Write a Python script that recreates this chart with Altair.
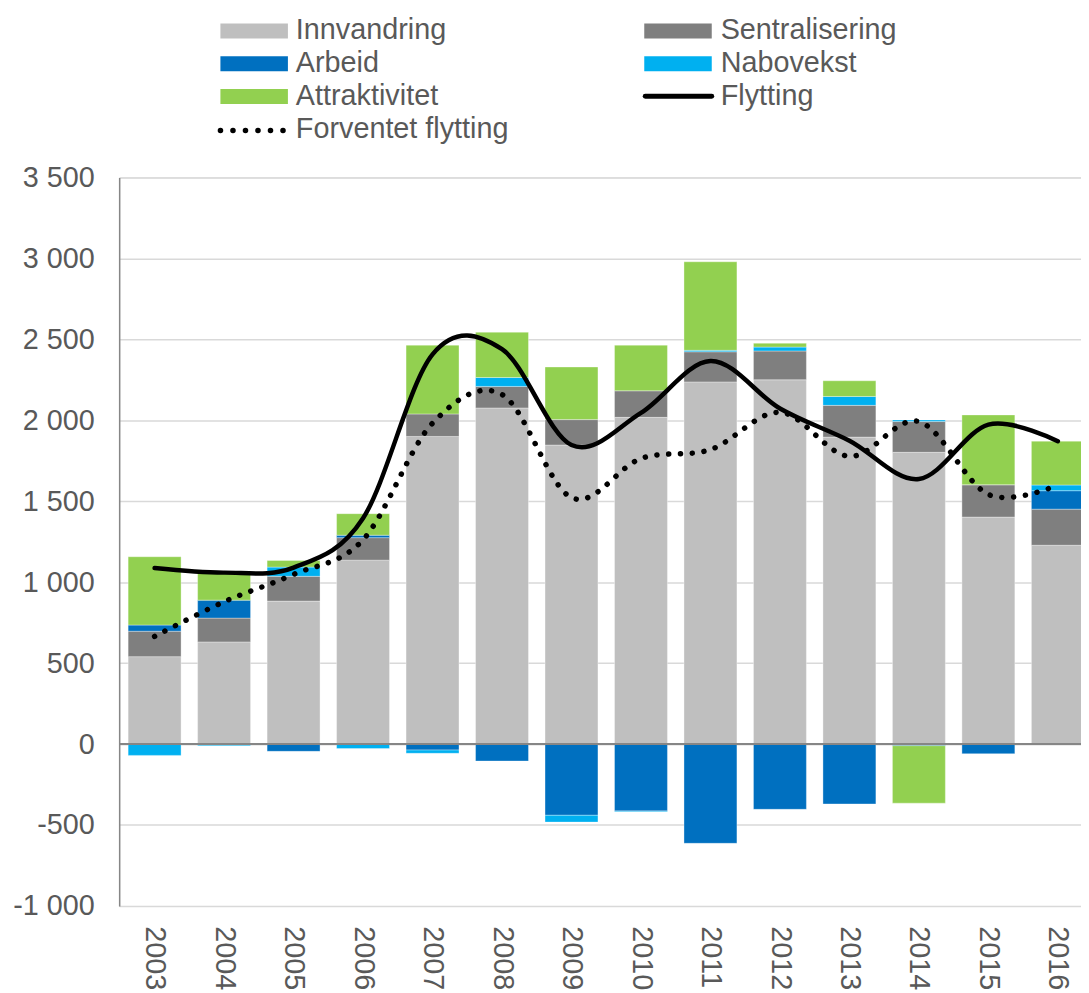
import altair as alt
import pandas as pd

# ---------------- data ----------------
YEARS = list(range(2003, 2017))
SERIES = ["Innvandring", "Sentralisering", "Arbeid", "Nabovekst", "Attraktivitet"]
COLORS = ["#BFBFBF", "#7F7F7F", "#0070C0", "#00B0F0", "#92D050"]

INNVANDRING = [540, 631, 883, 1136, 1900, 2076, 1847, 2018, 2237, 2250, 1896, 1802, 1402, 1228]
SENTRALISERING = [157, 147, 153, 139, 139, 133, 157, 164, 186, 178, 196, 190, 200, 223]
ARBEID = [38, 111, -45, 15, -37, -105, -440, -413, -613, -403, -370, -10, -60, 114]
NABOVEKST = [-70, -10, 57, -28, -20, 55, -42, -5, 9, 24, 55, 10, 0, 35]
ATTRAKTIVITET = [422, 180, 41, 133, 425, 280, 325, 282, 547, 24, 97, -355, 431, 271]

FLYTTING = [1087, 1059, 1090, 1395, 2407, 2439, 1847, 2046, 2366, 2073, 1874, 1637, 1973, 1871]
FORVENTET = [665, 879, 1048, 1262, 1982, 2159, 1522, 1764, 1819, 2049, 1777, 1992, 1542, 1600]

Y_TICKS = [-1000, -500, 0, 500, 1000, 1500, 2000, 2500, 3000, 3500]

# ---------------- tables ----------------
series_values = [INNVANDRING, SENTRALISERING, ARBEID, NABOVEKST, ATTRAKTIVITET]
rows = []
for order, (name, vals) in enumerate(zip(SERIES, series_values)):
    for y, v in zip(YEARS, vals):
        rows.append({"year": y, "series": name, "order": order, "value": v})
bar_df = pd.DataFrame(rows)
line_df = pd.DataFrame({"year": YEARS, "flytting": FLYTTING, "forventet": FORVENTET})

FONT = "Liberation Sans"
TXT = "#595959"
FS = 29
W, H = 969, 734

xscale = alt.Scale(domain=[2002.49, 2016.333], nice=False, zero=False)
yscale = alt.Scale(domain=[-1000, 3500], nice=False, zero=False)

xaxis = alt.Axis(values=YEARS, format="d", labelAngle=90, ticks=False, domain=False,
                 grid=False, labelFontSize=FS, labelColor=TXT, labelFont=FONT,
                 labelPadding=20, labelOverlap=False, labelFlush=False, title=None)
yaxis = alt.Axis(values=Y_TICKS,
                 labelExpr="(datum.value < 0 ? '-' : '') + replace(format(abs(datum.value), ','), ',', ' ')",
                 ticks=False, domainColor="#868686", domainWidth=1.5,
                 gridColor="#D9D9D9", gridWidth=1.5, labelFontSize=FS,
                 labelColor=TXT, labelFont=FONT, labelPadding=25, title=None)

bars = (
    alt.Chart(bar_df)
    .transform_stack(stack="value", as_=["v0", "v1"], groupby=["year"],
                     sort=[alt.SortField("order", order="ascending")], offset="zero")
    .transform_calculate(x0="datum.year - 0.381", x1="datum.year + 0.381")
    .mark_rect(clip=True, stroke="white", strokeOpacity=0.35, strokeWidth=1)
    .encode(
        x=alt.X("x0:Q", scale=xscale, axis=xaxis),
        x2="x1:Q",
        y=alt.Y("v0:Q", scale=yscale, axis=yaxis),
        y2="v1:Q",
        color=alt.Color("series:N", scale=alt.Scale(domain=SERIES, range=COLORS), legend=None),
    )
)

zero_rule = (
    alt.Chart(pd.DataFrame({"v": [0]}))
    .mark_rule(color="#868686", strokeWidth=2)
    .encode(y=alt.Y("v:Q", scale=yscale))
)

flytting = (
    alt.Chart(line_df)
    .mark_line(interpolate="cardinal", color="black", strokeWidth=4.5, strokeCap="round", clip=True)
    .encode(x=alt.X("year:Q", scale=xscale), y=alt.Y("flytting:Q", scale=yscale))
)
forventet = (
    alt.Chart(line_df)
    .mark_line(interpolate="cardinal", color="black", strokeWidth=5.5, strokeCap="round",
               strokeDash=[0.1, 11.8], clip=True)
    .encode(x=alt.X("year:Q", scale=xscale), y=alt.Y("forventet:Q", scale=yscale))
)

# ---------------- manual legend (pixel layout relative to plot origin) ----------------
LEG_SWATCH = {
    "Innvandring": (102, 170, -155, -140),
    "Sentralisering": (529, 597, -155, -140),
    "Arbeid": (102, 170, -122, -107),
    "Nabovekst": (529, 597, -122, -107),
    "Attraktivitet": (102, 170, -89, -74),
}
LEG_TEXT = {
    "Innvandring": (178, -139),
    "Sentralisering": (606, -139),
    "Arbeid": (178, -106),
    "Nabovekst": (606, -106),
    "Attraktivitet": (178, -73),
    "Flytting": (606, -73),
    "Forventet flytting": (178, -40),
}

legend_layers = []
for name, col in zip(SERIES, COLORS):
    x1, x2, y1, y2 = LEG_SWATCH[name]
    legend_layers.append(
        alt.Chart(pd.DataFrame({"label": [name]}))
        .mark_rect(color=col)
        .encode(x=alt.value(x1), x2=alt.value(x2), y=alt.value(y1), y2=alt.value(y2))
    )
legend_layers.append(
    alt.Chart(pd.DataFrame({"label": ["Flytting"]}))
    .mark_rule(color="black", strokeWidth=5, strokeCap="round")
    .encode(x=alt.value(530), x2=alt.value(597), y=alt.value(-81.7))
)
legend_layers.append(
    alt.Chart(pd.DataFrame({"label": ["Forventet flytting"]}))
    .mark_rule(color="black", strokeWidth=5.5, strokeCap="round", strokeDash=[0.1, 12.5])
    .encode(x=alt.value(102), x2=alt.value(165.2), y=alt.value(-47.3))
)
for name, (tx, ty) in LEG_TEXT.items():
    legend_layers.append(
        alt.Chart(pd.DataFrame({"label": [name]}))
        .mark_text(align="left", baseline="alphabetic", fontSize=FS, font=FONT, color=TXT)
        .encode(x=alt.value(tx), y=alt.value(ty), text="label:N")
    )

chart = (
    alt.layer(bars, zero_rule, flytting, forventet, *legend_layers)
    .properties(width=W, height=H,
                autosize=alt.AutoSizeParams(type="none"),
                padding={"left": 112, "top": 167, "right": 0, "bottom": 84})
    .configure_view(stroke=None)
    .configure(background="white")
)

chart.save("out.html", embed_options={"renderer": "svg", "actions": False})
